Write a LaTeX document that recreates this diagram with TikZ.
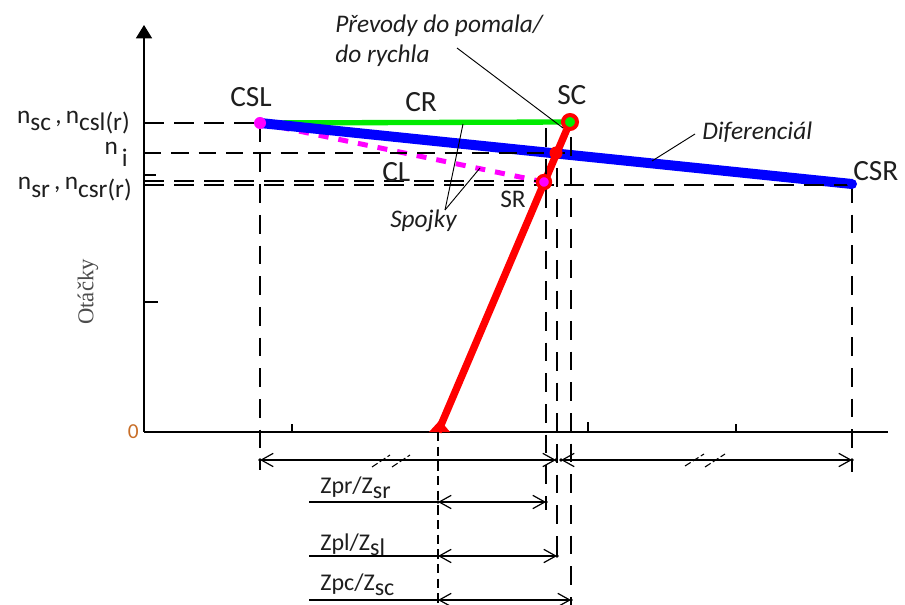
\documentclass[tikz,border=0pt]{standalone}
\usepackage{fontspec}
\setmainfont{Carlito}
\newfontfamily\otserif{Liberation Serif}
\usetikzlibrary{arrows.meta}
\newcommand{\lowr}[2]{\raisebox{-#1}{#2}}
\definecolor{cgreen}{RGB}{0,235,0}
\definecolor{cblue}{RGB}{0,0,255}
\definecolor{cred}{RGB}{255,0,0}
\definecolor{cmag}{RGB}{255,0,255}
\definecolor{ctext}{RGB}{30,30,30}
\definecolor{corange}{RGB}{200,110,40}
\begin{document}
\begin{tikzpicture}[x=0.75pt,y=-0.75pt,
  thinl/.style={line width=1pt,black},
  hdash/.style={thinl,dash pattern=on 15pt off 7.5pt},
  vdash/.style={thinl,dash pattern=on 14pt off 9pt},
  sdash/.style={thinl,dash pattern=on 7pt off 4pt},
  dim/.style={line width=0.9pt,{Straight Barb[length=9pt,width=10pt]}-{Straight Barb[length=9pt,width=10pt]}},
  leader/.style={line width=0.7pt,black},
  big/.style={inner sep=0,anchor=base west,text=ctext,font=\fontsize{22}{26}\selectfont},
  mid/.style={inner sep=0,anchor=base west,text=ctext,font=\fontsize{19}{23}\selectfont},
  ann/.style={inner sep=0,anchor=base west,text=ctext,font=\fontsize{19}{23}\selectfont\itshape},
  lft/.style={inner sep=0,anchor=base east,text=ctext,font=\fontsize{19}{23}\selectfont},
  zl/.style={inner sep=0,anchor=base west,text=ctext,font=\fontsize{18}{22}\selectfont}
]
\useasboundingbox (0,0) rectangle (905,605);

% key points
\coordinate (O) at (144,432);
\coordinate (Ytop) at (144,25);
\coordinate (Xend) at (888,432);
\coordinate (CSL) at (260,123);
\coordinate (CSR) at (852,184);
\coordinate (SC) at (570,122);
\coordinate (SR) at (544,182);
\coordinate (MIDR) at (556,153);
\coordinate (PB) at (438,432);

% axes
\draw[line width=1.2pt,-{Triangle[length=10pt,width=12pt]}] (O) -- (Ytop);
\draw[line width=1.2pt] (O) -- (Xend);
\coordinate (t1a) at (292,432); \coordinate (t1b) at (292,424);
\coordinate (t2a) at (588,432); \coordinate (t2b) at (588,422);
\coordinate (t3a) at (736,432); \coordinate (t3b) at (736,424);
\coordinate (ty1a) at (144,302); \coordinate (ty1b) at (158,302);
\coordinate (ty2a) at (144,175); \coordinate (ty2b) at (156,175);
\draw[thinl] (t1a)--(t1b) (t2a)--(t2b) (t3a)--(t3b) (ty1a)--(ty1b) (ty2a)--(ty2b);

% colored lines
\draw[cgreen,line width=4pt] (CSL) -- (SC);
\draw[cmag,line width=3.75pt,dash pattern=on 7.5pt off 7.5pt] (CSL) -- (SR);
\draw[cblue,line width=7.5pt] (CSL) -- (CSR);
\draw[cred,line width=5.5pt] (PB) -- (SC);
\coordinate (pbl) at (429,432); \coordinate (pbr) at (450,432); \coordinate (pbt) at (440,420);
\fill[cred] (pbl) -- (pbr) -- (pbt) -- cycle;

% horizontal dashed reference lines
\coordinate (h1) at (144,123);
\coordinate (h2) at (144,153); \coordinate (h2e) at (565,153);
\coordinate (h3) at (144,181); \coordinate (h3e) at (545,181);
\coordinate (h4) at (144,185); \coordinate (h4e) at (852,185);
\draw[hdash] (h1) -- (CSL);
\draw[hdash,dash pattern=on 13pt off 7.5pt] (h2) -- (h2e);
\draw[hdash] (h3) -- (h3e);
\draw[hdash] (h4) -- (h4e);

% vertical dashed lines
\coordinate (v1) at (260,470);
\coordinate (v2) at (852,472);
\coordinate (v3a) at (546,128); \coordinate (v3b) at (546,510);
\coordinate (v4a) at (557,168); \coordinate (v4b) at (557,560);
\coordinate (v5a) at (571,137); \coordinate (v5b) at (571,605);
\coordinate (v6b) at (438,605);
\draw[vdash] (CSL) -- (v1);
\draw[vdash] (CSR) -- (v2);
\draw[vdash] (v3a) -- (v3b);
\draw[vdash] (v4a) -- (v4b);
\draw[vdash] (v5a) -- (v5b);
\draw[sdash] (PB) -- (v6b);

% markers
\fill[cmag] (CSL) circle (6);
\fill[cblue] (CSR) circle (5);
\fill[cred] (MIDR) circle (6.5);
\draw[cred,line width=2.5pt,fill=cmag] (SR) circle (6.5);
\draw[cred,line width=3pt,fill=cgreen] (SC) circle (7);

% dimension lines
\coordinate (d1a) at (260,460); \coordinate (d1b) at (556,460);
\coordinate (d2a) at (561,460); \coordinate (d2b) at (852,460);
\coordinate (d3a) at (438,502); \coordinate (d3b) at (546,502);
\coordinate (d4a) at (438,556); \coordinate (d4b) at (557,556);
\coordinate (d5a) at (438,600); \coordinate (d5b) at (571,600);
\coordinate (l3) at (309,502); \coordinate (l4) at (309,556); \coordinate (l5) at (309,600);
\draw[dim] (d1a) -- (d1b);
\draw[dim] (d2a) -- (d2b);
\draw[dim] (d3a) -- (d3b);
\draw[dim] (d4a) -- (d4b);
\draw[dim] (d5a) -- (d5b);
\draw[thinl] (l3) -- (d3a);
\draw[thinl] (l4) -- (d4a);
\draw[thinl] (l5) -- (d5a);
\foreach \p in {d1a,d1b,d2a,d2b,d3a,d3b,d4a,d4b,d5a,d5b} \fill (\p) circle (1.8);

% break marks
\coordinate (b1a) at (372,467); \coordinate (b1b) at (390,455);
\coordinate (b2a) at (392,467); \coordinate (b2b) at (410,455);
\coordinate (b3a) at (685,466); \coordinate (b3b) at (704,454);
\coordinate (b4a) at (705,467); \coordinate (b4b) at (725,454);
\draw[line width=0.8pt,dash pattern=on 5pt off 2pt] (b1a)--(b1b) (b2a)--(b2b) (b3a)--(b3b) (b4a)--(b4b);

% annotation leaders
\coordinate (pv1) at (457,48); \coordinate (pv2) at (563,128);
\coordinate (df1) at (695,134); \coordinate (df2) at (652,161);
\coordinate (sp0) at (445,210); \coordinate (sp1) at (463,124); \coordinate (sp2) at (480,168);
\draw[leader] (pv1) -- (pv2);
\draw[leader] (df1) -- (df2);
\draw[leader] (sp0) -- (sp1);
\draw[leader] (sp0) -- (sp2);

% texts
\node[big] (tCSL) at (230,107) {CSL};
\node[big] (tCSR) at (853,181) {CSR};
\node[big] (tSC) at (557,105) {SC};
\node[big] (tCR) at (405,112) {CR};
\node[big] (tCL) at (382,182) {CL};
\node[mid] (tSR) at (500,208) {SR};
\node[ann] (tPv1) at (335,33) {Převody do pomala/};
\node[ann] (tPv2) at (335,63) {do rychla};
\node[ann] (tSp) at (390,228) {Spojky};
\node[ann] (tDf) at (702,140) {Diferenciál};
\node[inner sep=0,anchor=base east,text=corange,font=\fontsize{16}{18}\selectfont] (tZero) at (139,438) {0};
\node[inner sep=0,rotate=90,text=black!70,font=\otserif\fontsize{17}{20}\selectfont] (tOt) at (88,292) {Otáčky};
\node[lft] (tnsc) at (130,124) {n\lowr{5pt}{sc}\,,\,n\lowr{5pt}{csl(r)}};
\node[lft] (tni) at (128,155) {n\hspace{3pt}\lowr{9pt}{i}};
\node[lft] (tnsr) at (132,190) {n\lowr{6pt}{sr}\,,\,n\lowr{6pt}{csr(r)}};
\node[zl] (tz1) at (320,493) {Zpr/Z\lowr{4pt}{sr}};
\node[zl] (tz2) at (320,550) {Zpl/Z\lowr{4pt}{sl}};
\node[zl] (tz3) at (320,590) {Zpc/Z\lowr{4pt}{sc}};
\end{tikzpicture}
\end{document}
